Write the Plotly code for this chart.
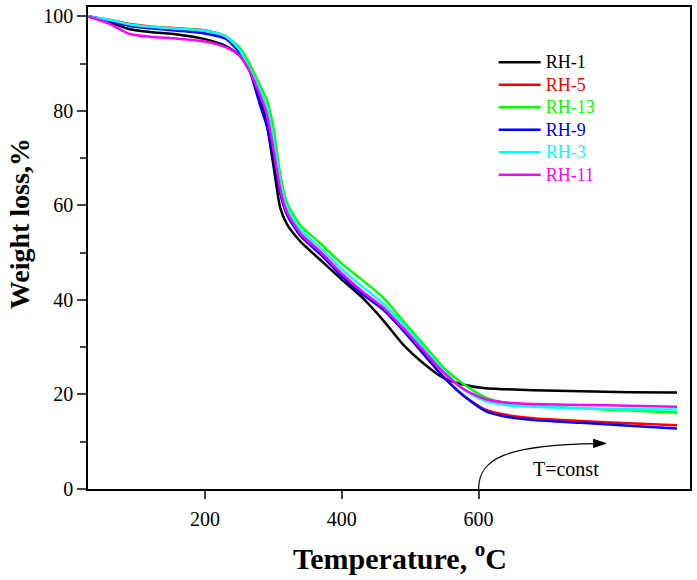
import plotly.graph_objects as go

# Temperature grid (°C)
temperature = [30, 60, 90, 120, 160, 200, 230, 250, 265, 280, 290, 300, 310, 320, 340,
               370, 400, 430, 460, 490, 520, 550, 580, 610, 640, 680, 750, 820, 890]

rh_1 = [100, 98.8, 97.3, 96.7, 96.2, 95.2, 93.8, 91.8, 88.5, 83.0, 77.5, 68.5, 59.5, 56.0, 52.3,
        48.3, 44.3, 40.5, 35.8, 30.5, 26.5, 23.4, 22.0, 21.3, 21.1, 20.9, 20.7, 20.5, 20.4]
rh_5 = [100, 99.3, 98.4, 97.9, 97.5, 97.1, 95.8, 93.0, 89.0, 84.0, 80.0, 72.5, 64.0, 58.5, 54.0,
        50.0, 45.4, 41.5, 38.2, 33.5, 28.5, 23.5, 19.5, 16.8, 15.7, 15.0, 14.4, 13.9, 13.5]
rh_13 = [100, 99.2, 98.2, 97.7, 97.3, 97.0, 95.8, 93.5, 90.0, 85.5, 82.5, 76.5, 66.5, 60.5, 55.7,
         51.8, 47.7, 44.2, 40.6, 35.5, 30.5, 25.5, 22.0, 19.4, 18.2, 17.6, 17.1, 16.6, 16.2]
rh_9 = [100, 99.1, 98.0, 97.5, 97.0, 96.4, 95.3, 92.5, 88.6, 81.5, 77.0, 70.5, 62.5, 58.0, 53.5,
        49.5, 45.0, 41.2, 38.0, 33.5, 28.5, 23.5, 19.5, 16.5, 15.3, 14.6, 14.0, 13.4, 12.8]
rh_3 = [100, 99.3, 98.3, 97.8, 97.4, 97.0, 95.8, 93.0, 89.0, 84.5, 81.0, 74.0, 65.0, 59.5, 54.8,
        50.8, 46.5, 42.8, 39.3, 34.8, 29.8, 24.8, 20.8, 18.6, 17.8, 17.4, 17.1, 16.9, 16.8]
rh_11 = [100, 98.5, 96.3, 95.7, 95.3, 94.7, 93.5, 91.8, 88.5, 83.5, 79.5, 72.0, 63.5, 58.5, 54.0,
         50.0, 45.6, 41.8, 38.5, 34.0, 29.2, 24.5, 21.0, 19.0, 18.3, 18.0, 17.8, 17.6, 17.4]

series_names = ["RH-1", "RH-5", "RH-13", "RH-9", "RH-3", "RH-11"]
series_values = [rh_1, rh_5, rh_13, rh_9, rh_3, rh_11]
series_colors = ["#000000", "#ff0000", "#00ff00", "#0000ff", "#00ffff", "#ff00ff"]

x_tickvals = [200, 400, 600]
y_tickvals = [0, 20, 40, 60, 80, 100]

FONT = "'Liberation Serif', 'Times New Roman', serif"

# plot-area geometry (pixels)
L, R, T, B = 88, 692, 7, 489
W, H = 697, 580


def px_x(p):
    return (p - L) / (R - L)


def px_y(p):
    return (B - p) / (B - T)


fig = go.Figure()
for name, vals, col in zip(series_names, series_values, series_colors):
    fig.add_trace(go.Scatter(
        x=temperature, y=vals, mode="lines",
        name=f'<span style="color:{col};font-size:18px">{name}</span>',
        line=dict(color=col, width=2.5, shape="spline", smoothing=0.6),
    ))

# curved arrow (T = const)
fig.add_shape(type="path", xref="x", yref="y",
              path="M 600,0 C 600,6.5 640,9.3 772,9.6",
              line=dict(color="black", width=1.2))
fig.add_shape(type="path", xref="x", yref="y",
              path="M 786,9.65 L 768,10.5 L 768,8.8 Z",
              line=dict(color="black", width=1), fillcolor="black")
fig.add_annotation(x=728, y=4.3, xref="x", yref="y", text="T=const", showarrow=False,
                   font=dict(family=FONT, size=20, color="black"))

# axis titles
fig.add_annotation(x=px_x(20), y=px_y(224), xref="paper", yref="paper", text="<b>Weight loss,%</b>",
                   showarrow=False, textangle=-90, xanchor="center", yanchor="middle",
                   font=dict(family=FONT, size=28, color="black"))
fig.add_annotation(x=px_x(401), y=px_y(556), xref="paper", yref="paper",
                   text="<b>Temperature, <sup>o</sup>C</b>",
                   showarrow=False, xanchor="center", yanchor="middle",
                   font=dict(family=FONT, size=30, color="black"))

fig.update_layout(
    width=W, height=H,
    margin=dict(l=L, r=W - R, t=T, b=H - B),
    paper_bgcolor="white", plot_bgcolor="white",
    font=dict(family=FONT, size=20, color="black"),
    showlegend=True,
    legend=dict(x=px_x(495), y=px_y(46), xanchor="left", yanchor="top", bgcolor="rgba(0,0,0,0)",
                font=dict(family=FONT, size=15), itemwidth=42, tracegroupgap=0),
    xaxis=dict(range=[29, 909], tickvals=x_tickvals, ticks="outside", ticklen=8, tickwidth=1.5,
               showline=True, linecolor="black", linewidth=1.5, mirror=True, showgrid=False,
               zeroline=False, tickfont=dict(family=FONT, size=20), ticklabelstandoff=3),
    yaxis=dict(range=[0, 102], tickvals=y_tickvals, ticks="outside", ticklen=9, tickwidth=1.5,
               minor=dict(tickvals=[10, 30, 50, 70, 90], ticks="outside", ticklen=6, tickwidth=1.5),
               showline=True, linecolor="black", linewidth=1.5, mirror=True, showgrid=False,
               zeroline=False, tickfont=dict(family=FONT, size=20)),
)

fig.write_html("out.html", config={"displayModeBar": False},
               post_script="document.body.style.margin='0';")
